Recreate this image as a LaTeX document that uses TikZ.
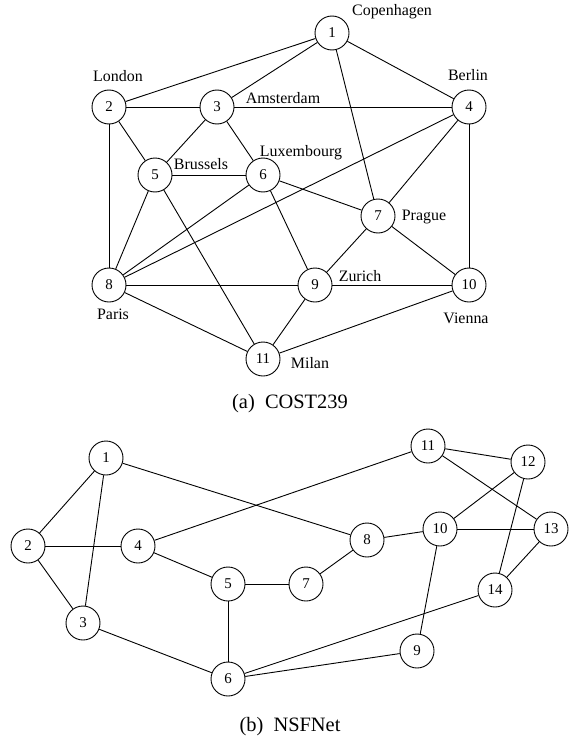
\documentclass[tikz,border=0pt]{standalone}
\usepackage{fontspec}
\setmainfont{Liberation Serif}
\begin{document}
\begin{tikzpicture}[x=1bp,y=-1bp,
  vertex/.style={circle,draw,line width=0.9bp,minimum size=34bp,inner sep=0pt,font=\fontsize{15}{15}\selectfont,fill=white},
  city/.style={font=\fontsize{16}{16}\selectfont,inner sep=0pt},
  caption/.style={font=\fontsize{20.5}{20.5}\selectfont,inner sep=0pt},
  link/.style={line width=0.9bp}]
\useasboundingbox (0,0) rectangle (578,738);

% ---------- COST239 ----------
\node[vertex] (a1)  at (332,33)  {1};
\node[vertex] (a2)  at (109,107) {2};
\node[vertex] (a3)  at (217,107) {3};
\node[vertex] (a4)  at (469,107) {4};
\node[vertex] (a5)  at (155,175) {5};
\node[vertex] (a6)  at (263,175) {6};
\node[vertex] (a7)  at (378,216) {7};
\node[vertex] (a8)  at (109,285) {8};
\node[vertex] (a9)  at (315,285) {9};
\node[vertex] (a10) at (469,285) {10};
\node[vertex] (a11) at (263,359) {11};

\node[city] (lc1)  at (392,12)  {Copenhagen};
\node[city] (lc2)  at (118,76)  {London};
\node[city] (lc4)  at (468,75)  {Berlin};
\node[city] (lc3)  at (283,98)  {Amsterdam};
\node[city] (lc5)  at (201,164) {Brussels};
\node[city] (lc6)  at (301,153) {Luxembourg};
\node[city] (lc7)  at (424,217) {Prague};
\node[city] (lc9)  at (360,276) {Zurich};
\node[city] (lc8)  at (113,314) {Paris};
\node[city] (lc10) at (466,318) {Vienna};
\node[city] (lc11) at (310,363) {Milan};

\begin{scope}[on background layer/.try]
\foreach \u/\v in {a1/a2,a1/a3,a1/a4,a1/a7,a2/a3,a2/a5,a2/a8,a3/a4,a3/a5,a3/a6,
                   a4/a7,a4/a8,a4/a10,a5/a6,a5/a8,a5/a11,a6/a7,a6/a8,a6/a9,
                   a7/a9,a7/a10,a8/a9,a8/a11,a9/a10,a9/a11,a10/a11}
  \draw[link] (\u) -- (\v);
\end{scope}

\node[caption] (capa) at (290,404) {(a)\ \ COST239};

% ---------- NSFNet ----------
\node[vertex] (b1)  at (106,458) {1};
\node[vertex] (b2)  at (28,546)  {2};
\node[vertex] (b3)  at (83,623)  {3};
\node[vertex] (b4)  at (138,546) {4};
\node[vertex] (b5)  at (228,584) {5};
\node[vertex] (b6)  at (228,679) {6};
\node[vertex] (b7)  at (306,584) {7};
\node[vertex] (b8)  at (367,540) {8};
\node[vertex] (b9)  at (417,651) {9};
\node[vertex] (b10) at (440,529) {10};
\node[vertex] (b11) at (428,446) {11};
\node[vertex] (b12) at (528,462) {12};
\node[vertex] (b13) at (551,529) {13};
\node[vertex] (b14) at (495,590) {14};

\foreach \u/\v in {b1/b2,b1/b3,b1/b8,b2/b3,b2/b4,b3/b6,b4/b5,b4/b11,b5/b6,b5/b7,
                   b6/b9,b6/b14,b7/b8,b8/b10,b10/b9,b10/b12,b10/b13,b11/b12,
                   b11/b13,b12/b14,b13/b14}
  \draw[link] (\u) -- (\v);

\node[caption] (capb) at (290,727) {(b)\ \ NSFNet};
\end{tikzpicture}
\end{document}
